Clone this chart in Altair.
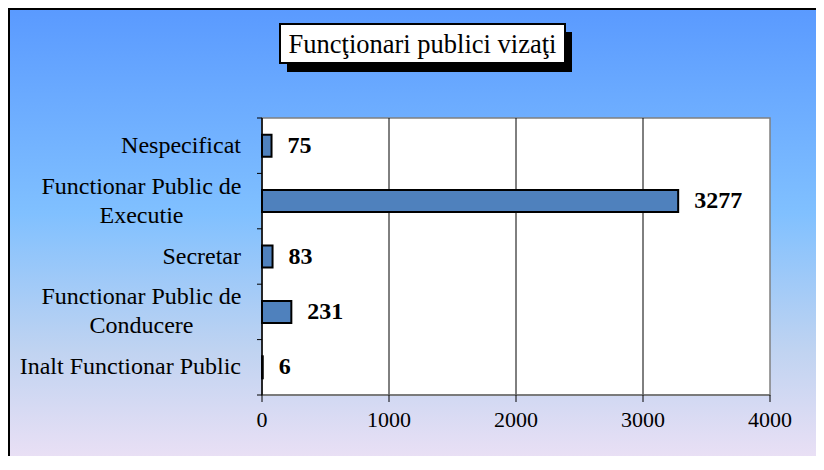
import altair as alt
import pandas as pd

categories = [
    "Nespecificat",
    "Functionar Public de|Executie",
    "Secretar",
    "Functionar Public de|Conducere",
    "Inalt Functionar Public",
]
values = [75, 3277, 83, 231, 6]
x_ticks = [0, 1000, 2000, 3000, 4000]
grid_values = [1000, 2000, 3000]
title_text = "Funcţionari publici vizaţi"

W, H = 508, 277
FONT = "Liberation Serif"

df = pd.DataFrame({"cat": categories, "val": values})
grid_df = pd.DataFrame({"g": grid_values})
xt_df = pd.DataFrame({"t": x_ticks})
one = pd.DataFrame({"a": [0]})

xscale = alt.Scale(domain=[0, 4000], nice=False)
yscale = alt.Scale(domain=categories, paddingInner=0, paddingOuter=0)

gradient = alt.LinearGradient(
    gradient="linear", x1=0, y1=0, x2=0, y2=1,
    stops=[
        alt.GradientStop(offset=0, color="#5a9aff"),
        alt.GradientStop(offset=0.42, color="#80c0ff"),
        alt.GradientStop(offset=0.7, color="#bfd3f1"),
        alt.GradientStop(offset=1, color="#f8e4f6"),
    ],
)

bg = alt.Chart(one).mark_rect(fill=gradient, stroke="black", strokeWidth=2).encode(
    x=alt.value(-253), x2=alt.value(W + 120), y=alt.value(-109), y2=alt.value(H + 100)
)
shadow = alt.Chart(one).mark_rect(fill="black").encode(
    x=alt.value(25), x2=alt.value(310), y=alt.value(-86), y2=alt.value(-46)
)
box = alt.Chart(one).mark_rect(fill="white", stroke="black", strokeWidth=2).encode(
    x=alt.value(18), x2=alt.value(303), y=alt.value(-94), y2=alt.value(-55)
)
title = alt.Chart(one).mark_text(
    text=title_text, font=FONT, fontSize=26.5, color="black",
    align="center", baseline="middle",
).encode(x=alt.value(160.5), y=alt.value(-73))

plot_bg = alt.Chart(one).mark_rect(fill="white", stroke="#808080", strokeWidth=1.5).encode(
    x=alt.value(0), x2=alt.value(W), y=alt.value(0), y2=alt.value(H)
)

grid = alt.Chart(grid_df).mark_rule(color="black", strokeWidth=1).encode(
    x=alt.X("g:Q", scale=xscale, axis=None)
)

# x axis (drawn with the x scale)
x_domain = alt.Chart(one).mark_rule(color="#707070", strokeWidth=1.5).encode(
    x=alt.value(0), x2=alt.value(W), y=alt.value(H)
)
x_tick_marks = alt.Chart(xt_df).mark_rule(color="black", strokeWidth=1).encode(
    x=alt.X("t:Q", scale=xscale, axis=None), y=alt.value(H), y2=alt.value(H + 7)
)
x_tick_labels = alt.Chart(xt_df).mark_text(
    font=FONT, fontSize=22, color="black", align="center", baseline="top"
).encode(
    x=alt.X("t:Q", scale=xscale, axis=None), y=alt.value(H + 15), text="t:Q"
)

# y axis (drawn with the y band scale)
y_domain = alt.Chart(one).mark_rule(color="black", strokeWidth=1.5).encode(
    x=alt.value(0), y=alt.value(0), y2=alt.value(H)
)
y_tick_marks = alt.Chart(df).mark_rule(color="black", strokeWidth=1).encode(
    y=alt.Y("cat:N", scale=yscale, sort=None, axis=None, bandPosition=0),
    x=alt.value(-5), x2=alt.value(0),
)
y_tick_end = alt.Chart(one).mark_rule(color="black", strokeWidth=1).encode(
    y=alt.value(H), x=alt.value(-5), x2=alt.value(0)
)

bars = alt.Chart(df).mark_bar(size=22, fill="#4f81bd", stroke="black", strokeWidth=2).encode(
    x=alt.X("val:Q", scale=xscale, axis=None),
    y=alt.Y("cat:N", scale=yscale, sort=None, axis=None),
)

labels = alt.Chart(df).mark_text(
    align="left", baseline="middle", dx=16, font=FONT, fontSize=24,
    fontWeight="bold", color="black",
).encode(
    x=alt.X("val:Q", scale=xscale, axis=None),
    y=alt.Y("cat:N", scale=yscale, sort=None, axis=None),
    text=alt.Text("val:Q"),
)

cat_single = alt.Chart(df).transform_filter(
    "indexof(datum.cat, '|') < 0"
).mark_text(
    align="right", baseline="middle", font=FONT, fontSize=24, color="black"
).encode(
    x=alt.value(-21),
    y=alt.Y("cat:N", scale=yscale, sort=None, axis=None),
    text="cat:N",
)

cat_multi = alt.Chart(df).transform_filter(
    "indexof(datum.cat, '|') >= 0"
).mark_text(
    align="center", baseline="middle", font=FONT, fontSize=24, color="black",
    lineBreak="|", lineHeight=29, dy=-14.5,
).encode(
    x=alt.value(-120.5),
    y=alt.Y("cat:N", scale=yscale, sort=None, axis=None),
    text="cat:N",
)

chart = alt.layer(
    bg, shadow, box, title, plot_bg, grid, x_domain, x_tick_marks, x_tick_labels,
    y_domain, y_tick_marks, y_tick_end, bars, labels, cat_single, cat_multi
).properties(
    width=W, height=H,
    autosize=alt.AutoSizeParams(type="none"),
    padding={"left": 254, "top": 110, "right": 46, "bottom": 61},
    background="white",
).configure_view(stroke=None)

chart.save("out.html", embed_options={"renderer": "svg", "actions": False})
